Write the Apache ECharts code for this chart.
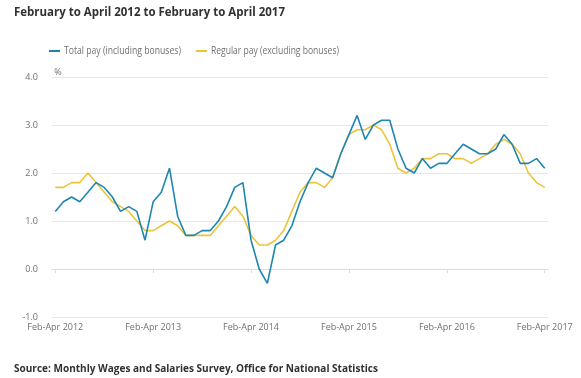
<!DOCTYPE html>
<html>
<head>
<meta charset="utf-8">
<script src="https://cdn.jsdelivr.net/npm/echarts@6/dist/echarts.min.js"></script>
<style>html,body{margin:0;padding:0;background:#fff;}#c{width:581px;height:378px;}</style>
</head>
<body>
<div id="c"></div>
<script>
var titleText = 'February to April 2012 to February to April 2017';
var sourceText = 'Source: Monthly Wages and Salaries Survey, Office for National Statistics';
var seriesNames = ['Total pay (including bonuses)', 'Regular pay (excluding bonuses)'];
var seriesColors = ['#1f86b2', '#eac43d'];
var xTickPositions = [0, 12, 24, 36, 48, 60];
var xTickLabels = ['Feb-Apr 2012', 'Feb-Apr 2013', 'Feb-Apr 2014', 'Feb-Apr 2015', 'Feb-Apr 2016', 'Feb-Apr 2017'];
var totalPay = [1.2,1.4,1.5,1.4,1.6,1.8,1.7,1.5,1.2,1.3,1.2,0.6,1.4,1.6,2.1,1.1,0.7,0.7,0.8,0.8,
  1.0,1.3,1.7,1.8,0.6,0.0,-0.3,0.5,0.6,0.9,1.4,1.8,2.1,2.0,1.9,2.4,2.8,3.2,2.7,3.0,
  3.1,3.1,2.5,2.1,2.0,2.3,2.1,2.2,2.2,2.4,2.6,2.5,2.4,2.4,2.5,2.8,2.6,2.2,2.2,2.3,2.1];
var regularPay = [1.7,1.7,1.8,1.8,2.0,1.8,1.6,1.4,1.3,1.2,1.0,0.8,0.8,0.9,1.0,0.9,0.7,0.7,0.7,0.7,
  0.9,1.1,1.3,1.1,0.7,0.5,0.5,0.6,0.8,1.2,1.6,1.8,1.8,1.7,1.9,2.4,2.8,2.9,2.9,3.0,
  2.9,2.6,2.1,2.0,2.1,2.3,2.3,2.4,2.4,2.3,2.3,2.2,2.3,2.4,2.6,2.7,2.6,2.4,2.0,1.8,1.7];

function pairs(arr){ return arr.map(function(v,i){ return [i, v]; }); }

var fontFam = '"Open Sans", "Noto Sans", sans-serif';
var mctx = document.createElement('canvas').getContext('2d');
function fitScale(text, font, targetW){ mctx.font = font; return targetW / mctx.measureText(text).width; }

var titleFont = 'bold 13px ' + fontFam;
var sourceFont = 'bold 11px ' + fontFam;
var legendFont = '10.5px ' + fontFam;

function scaledText(text, font, x, y, targetW, color){
  return {type:'text', x:x, y:y, scaleX:fitScale(text, font, targetW), silent:true,
    style:{text:text, font:font, fill:color, textAlign:'left', textVerticalAlign:'middle'}};
}

var chart = echarts.init(document.getElementById('c'), null, {renderer:'canvas'});
chart.setOption({
  animation:false,
  backgroundColor:'#ffffff',
  textStyle:{fontFamily:fontFam},
  graphic:[
    scaledText(titleText, titleFont, 14, 12, 271, '#323132'),
    scaledText(sourceText, sourceFont, 14, 369, 364, '#323132'),
    {type:'rect', shape:{x:49, y:50, width:11, height:2}, style:{fill:seriesColors[0]}, silent:true},
    scaledText(seriesNames[0], legendFont, 64, 51.5, 117, '#707071'),
    {type:'rect', shape:{x:196, y:50, width:11, height:2}, style:{fill:seriesColors[1]}, silent:true},
    scaledText(seriesNames[1], legendFont, 211, 51.5, 128, '#707071')
  ],
  grid:{left:52, right:33, top:77, bottom:61, containLabel:false},
  xAxis:{
    type:'value', min:-0.4, max:60.4,
    splitLine:{show:false},
    axisLine:{show:true, lineStyle:{color:'#d8dde6', width:1}},
    axisTick:{show:true, customValues:xTickPositions, length:4, lineStyle:{color:'#d8dde6'}},
    axisLabel:{customValues:xTickPositions, margin:6, fontSize:9, color:'#707071', fontFamily:fontFam,
      formatter:function(v){ var k = xTickPositions.indexOf(Math.round(v)); return k>=0 ? xTickLabels[k] : ''; }}
  },
  yAxis:{
    type:'value', min:-1, max:4, interval:1,
    name:'%', nameLocation:'end', nameGap:0,
    nameTextStyle:{fontFamily:fontFam, fontSize:9, color:'#707071', align:'left', padding:[0,0,0,-1]},
    axisLine:{show:false}, axisTick:{show:false},
    splitLine:{lineStyle:{color:'#e6e6e6', width:1}},
    axisLabel:{margin:14, fontSize:9, color:'#707071', fontFamily:fontFam, formatter:function(v){ return v.toFixed(1); }}
  },
  series:[
    {name:seriesNames[0], type:'line', data:pairs(totalPay), showSymbol:false, symbol:'none',
      lineStyle:{color:seriesColors[0], width:1.6}, itemStyle:{color:seriesColors[0]}, z:3},
    {name:seriesNames[1], type:'line', data:pairs(regularPay), showSymbol:false, symbol:'none',
      lineStyle:{color:seriesColors[1], width:1.6}, itemStyle:{color:seriesColors[1]}, z:2}
  ]
});
</script>
</body>
</html>
